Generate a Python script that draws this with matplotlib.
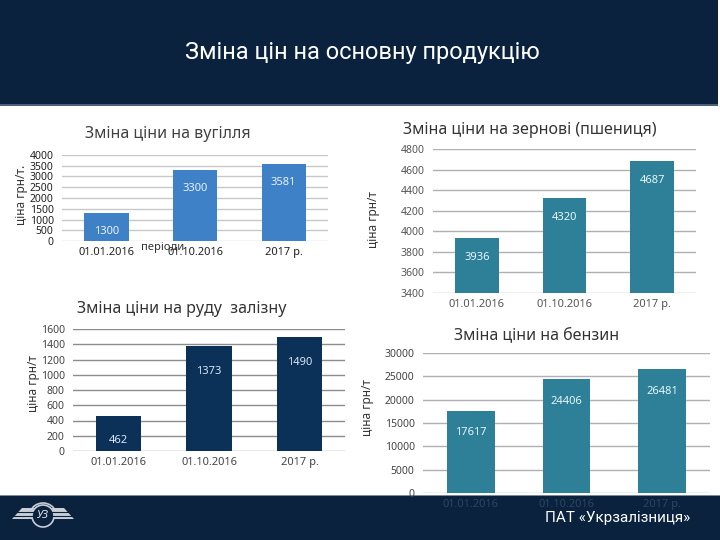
import matplotlib
matplotlib.use("Agg")
import matplotlib.pyplot as plt
from matplotlib.patches import Rectangle, Polygon, Arc, Circle

plt.rcParams['font.family'] = ['Noto Sans', 'DejaVu Sans']

# data
periods = ["01.01.2016", "01.10.2016", "2017 р."]
coal = [1300, 3300, 3581]
grain = [3936, 4320, 4687]
ore = [462, 1373, 1490]
petrol = [17617, 24406, 26481]

coal_ticks = [0, 500, 1000, 1500, 2000, 2500, 3000, 3500, 4000]
grain_ticks = [3400, 3600, 3800, 4000, 4200, 4400, 4600, 4800]
ore_ticks = [0, 200, 400, 600, 800, 1000, 1200, 1400, 1600]
petrol_ticks = [0, 5000, 10000, 15000, 20000, 25000, 30000]

NAVY = "#0a223d"
W, H = 720, 540

fig = plt.figure(figsize=(7.2, 5.4), dpi=100)
fig.patch.set_facecolor("white")


def px_axes(x0, y0, x1, y1):
    # pixel box (top-left origin) -> figure fraction axes
    return fig.add_axes([x0 / W, 1 - y1 / H, (x1 - x0) / W, (y1 - y0) / H])


def ftext(x, y, s, **kw):
    fig.text(x / W, 1 - y / H, s, **kw)


def bar_chart(ax, vals, ticks, color, lab_color, tick_color, grid_color,
              tick_fs, xfs, bold, offset, ylim, xcolor=None):
    x = range(len(vals))
    ax.bar(x, vals, width=0.5, color=color, zorder=2)
    ax.set_xlim(-0.5, 2.5)
    ax.set_ylim(*ylim)
    ax.set_yticks(ticks)
    ax.set_xticks(list(x))
    ax.set_xticklabels(periods, fontsize=xfs, color=xcolor or tick_color)
    ax.tick_params(axis="y", labelsize=tick_fs, colors=tick_color, length=0, pad=6)
    ax.tick_params(axis="x", length=0, pad=4)
    for s in ax.spines.values():
        s.set_visible(False)
    ax.yaxis.grid(True, color=grid_color, lw=1, zorder=0)
    ax.set_axisbelow(True)
    ax.patch.set_alpha(0)
    for i, v in enumerate(vals):
        ax.annotate(str(v), (i, v), xytext=(0, offset), textcoords="offset points",
                    ha="center", va="top", fontsize=8,
                    fontweight="bold" if bold else "normal", color=lab_color, zorder=3)


# header
fig.patches.append(Rectangle((0, 1 - 104 / H), 718 / W, 104 / H, transform=fig.transFigure,
                             facecolor=NAVY, edgecolor="none", zorder=5))
fig.patches.append(Rectangle((0, 1 - 106 / H), 718 / W, 2 / H, transform=fig.transFigure,
                             facecolor="#4a5f78", edgecolor="none", zorder=5))
ftext(362, 53, "Зміна цін на основну продукцію", family=["Roboto", "DejaVu Sans"],
      fontsize=17, color="white", ha="center", va="center", zorder=6)

# coal
ax1 = px_axes(62, 155, 328, 241)
bar_chart(ax1, coal, coal_ticks, "#3f81c6", "#eaf2ff", "#222222", "#c8c8c8",
          7.5, 8, False, -9, (0, 4000))
ftext(168, 134, "Зміна ціни на вугілля", fontsize=11.5, color="#404040", ha="center", va="center")
ftext(22, 195, "ціна грн/т.", fontsize=8.5, color="#333333", rotation=90, ha="center", va="center")
ftext(163, 247, "періоди", fontsize=8, color="#333333", ha="center", va="center")

# grain
ax2 = px_axes(433, 149, 696, 293)
bar_chart(ax2, grain, grain_ticks, "#2e8099", "#e6f6fa", "#555555", "#b0b0b0",
          7.5, 8, True, -10, (3400, 4800))
ftext(530, 130, "Зміна ціни на зернові (пшениця)", fontsize=11.5, color="#333333",
      ha="center", va="center")
ftext(373, 220, "ціна грн/т", fontsize=8.5, color="#333333", rotation=90, ha="center", va="center")

# ore
ax3 = px_axes(73, 329, 345, 451)
bar_chart(ax3, ore, ore_ticks, "#0c3159", "#d6e6f5", "#444444", "#8c8c8c",
          7.5, 8, True, -14, (0, 1600))
ftext(182, 309, "Зміна ціни на руду  залізну", fontsize=11.5, color="#333333",
      ha="center", va="center")
ftext(33, 383, "ціна грн/т", fontsize=8.5, color="#333333", rotation=90, ha="center", va="center")

# petrol (its period labels sit under the footer, only faintly visible)
ax4 = px_axes(423, 353, 710, 493)
bar_chart(ax4, petrol, petrol_ticks, "#2e8099", "#e6f6fa", "#444444", "#b0b0b0",
          7.5, 8, True, -12, (0, 30000), xcolor="#2b4664")
ax4.set_zorder(6)
ftext(537, 335, "Зміна ціни на бензин", fontsize=11.5, color="#333333", ha="center", va="center")
ftext(367, 408, "ціна грн/т", fontsize=8.5, color="#333333", rotation=90, ha="center", va="center")

# footer
fig.patches.append(Rectangle((0, 0), 1, 44 / H, transform=fig.transFigure,
                             facecolor=NAVY, edgecolor="none", zorder=5))
fig.patches.append(Rectangle((0, 44 / H), 1, 1.5 / H, transform=fig.transFigure,
                             facecolor="#7d8a99", edgecolor="none", zorder=5))
ftext(618, 518, "ПАТ «Укрзалізниця»", family=["Roboto", "DejaVu Sans"], fontsize=11,
      color="white", ha="center", va="center", zorder=6)

# small emblem in the footer
logo = px_axes(10, 500, 76, 536)
logo.set_xlim(0, 66)
logo.set_ylim(36, 0)
logo.axis("off")
logo.set_zorder(7)
wing_l = [(2, 19), (12, 8), (24, 8), (22, 19)]
wing_r = [(64, 19), (54, 8), (42, 8), (44, 19)]
for w in (wing_l, wing_r):
    logo.add_patch(Polygon(w, closed=True, facecolor="#c9ced6", edgecolor="none"))
for yy in (11.5, 15.5):
    logo.plot([3, 63], [yy, yy], color=NAVY, lw=0.8)
logo.add_patch(Circle((33, 16), 11, facecolor=NAVY, edgecolor="#c9ced6", lw=1.2))
logo.add_patch(Arc((33, 17), 28, 28, theta1=200, theta2=340, color="#c9ced6", lw=1.2))
logo.text(33, 16, "УЗ", ha="center", va="center", fontsize=8, fontweight="bold",
          color="#e4e7eb", style="italic")

fig.savefig("out.png", dpi=100)
